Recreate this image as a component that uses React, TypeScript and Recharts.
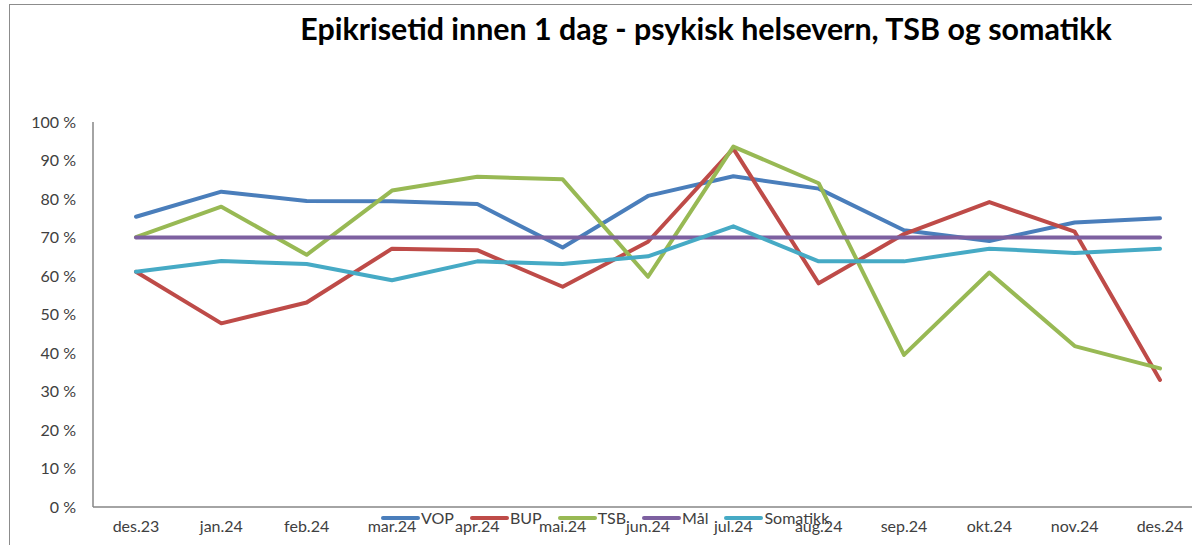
import { LineChart, Line, XAxis, YAxis } from "recharts";

const months = ["des.23", "jan.24", "feb.24", "mar.24", "apr.24", "mai.24", "jun.24", "jul.24", "aug.24", "sep.24", "okt.24", "nov.24", "des.24"];
const vop = [75.4, 81.9, 79.5, 79.4, 78.7, 67.4, 80.8, 85.9, 82.7, 71.9, 69.1, 73.9, 75];
const bup = [61.1, 47.7, 53.1, 67.1, 66.7, 57.2, 68.9, 93.1, 58.1, 70.9, 79.2, 71.5, 33];
const tsb = [70.1, 78, 65.5, 82.2, 85.8, 85.1, 59.8, 93.6, 84.1, 39.5, 60.9, 41.8, 36];
const maal = [70, 70, 70, 70, 70, 70, 70, 70, 70, 70, 70, 70, 70];
const somatikk = [61.1, 63.9, 63.1, 58.9, 63.8, 63.1, 65.1, 72.9, 63.8, 63.8, 67.1, 66, 67.1];
const yTicks = [0, 10, 20, 30, 40, 50, 60, 70, 80, 90, 100];

const series = [
  { key: "VOP", color: "#4a7ebb" },
  { key: "BUP", color: "#be4b48" },
  { key: "TSB", color: "#98b954" },
  { key: "Mål", color: "#7d60a0" },
  { key: "Somatikk", color: "#46aac5" },
];

const data = months.map((m, i) => ({
  month: m,
  VOP: vop[i],
  BUP: bup[i],
  TSB: tsb[i],
  "Mål": maal[i],
  Somatikk: somatikk[i],
}));

const font = "Lato, 'Open Sans', sans-serif";

function LegendBox() {
  return (
    <div style={{ position: "absolute", left: 381, top: 509, display: "flex", fontFamily: font, fontSize: 16, color: "#404040", lineHeight: "18px" }}>
      {series.map((s) => (
        <div key={s.key} style={{ display: "flex", alignItems: "center", marginRight: 16 }}>
          <span style={{ display: "inline-block", width: 39, height: 4, borderRadius: 2, background: s.color, marginRight: 1 }} />
          <span>{s.key}</span>
        </div>
      ))}
    </div>
  );
}

export default function App() {
  return (
    <div style={{ position: "absolute", left: 0, top: 0, width: 1192, height: 545, overflow: "hidden", background: "#fff" }}>
      <div style={{ position: "absolute", left: 9, top: 4, width: 1250, height: 600, border: "1.5px solid #8c8c8c" }} />
      <div style={{ position: "absolute", left: 0, top: 10, width: 1412, textAlign: "center", fontFamily: font, fontWeight: 700, fontSize: 30.4, color: "#000" }}>
        Epikrisetid innen 1 dag - psykisk helsevern, TSB og somatikk
      </div>
      <div style={{ position: "absolute", left: 0, top: 0 }}>
        <LineChart width={1210} height={545} data={data} margin={{ top: 122, right: 7, bottom: 8, left: 33 }}>
          <XAxis
            dataKey="month"
            padding={{ left: 43, right: 43 }}
            axisLine={{ stroke: "#868686", strokeWidth: 1.5 }}
            tickLine={false}
            tickSize={0}
            tickMargin={14}
            height={30}
            interval={0}
            tick={{ fill: "#404040", fontSize: 16, fontFamily: font }}
          />
          <YAxis
            domain={[0, 100]}
            ticks={yTicks}
            width={60}
            axisLine={{ stroke: "#868686", strokeWidth: 1.5 }}
            tickLine={false}
            tickSize={0}
            tickMargin={17}
            tickFormatter={(v) => `${v} %`}
            tick={{ fill: "#404040", fontSize: 16, fontFamily: font }}
          />
          {series.map((s) => (
            <Line
              key={s.key}
              type="linear"
              dataKey={s.key}
              stroke={s.color}
              strokeWidth={4}
              strokeLinecap="round"
              strokeLinejoin="round"
              dot={false}
              activeDot={false}
              isAnimationActive={false}
            />
          ))}
        </LineChart>
      </div>
      <LegendBox />
    </div>
  );
}
